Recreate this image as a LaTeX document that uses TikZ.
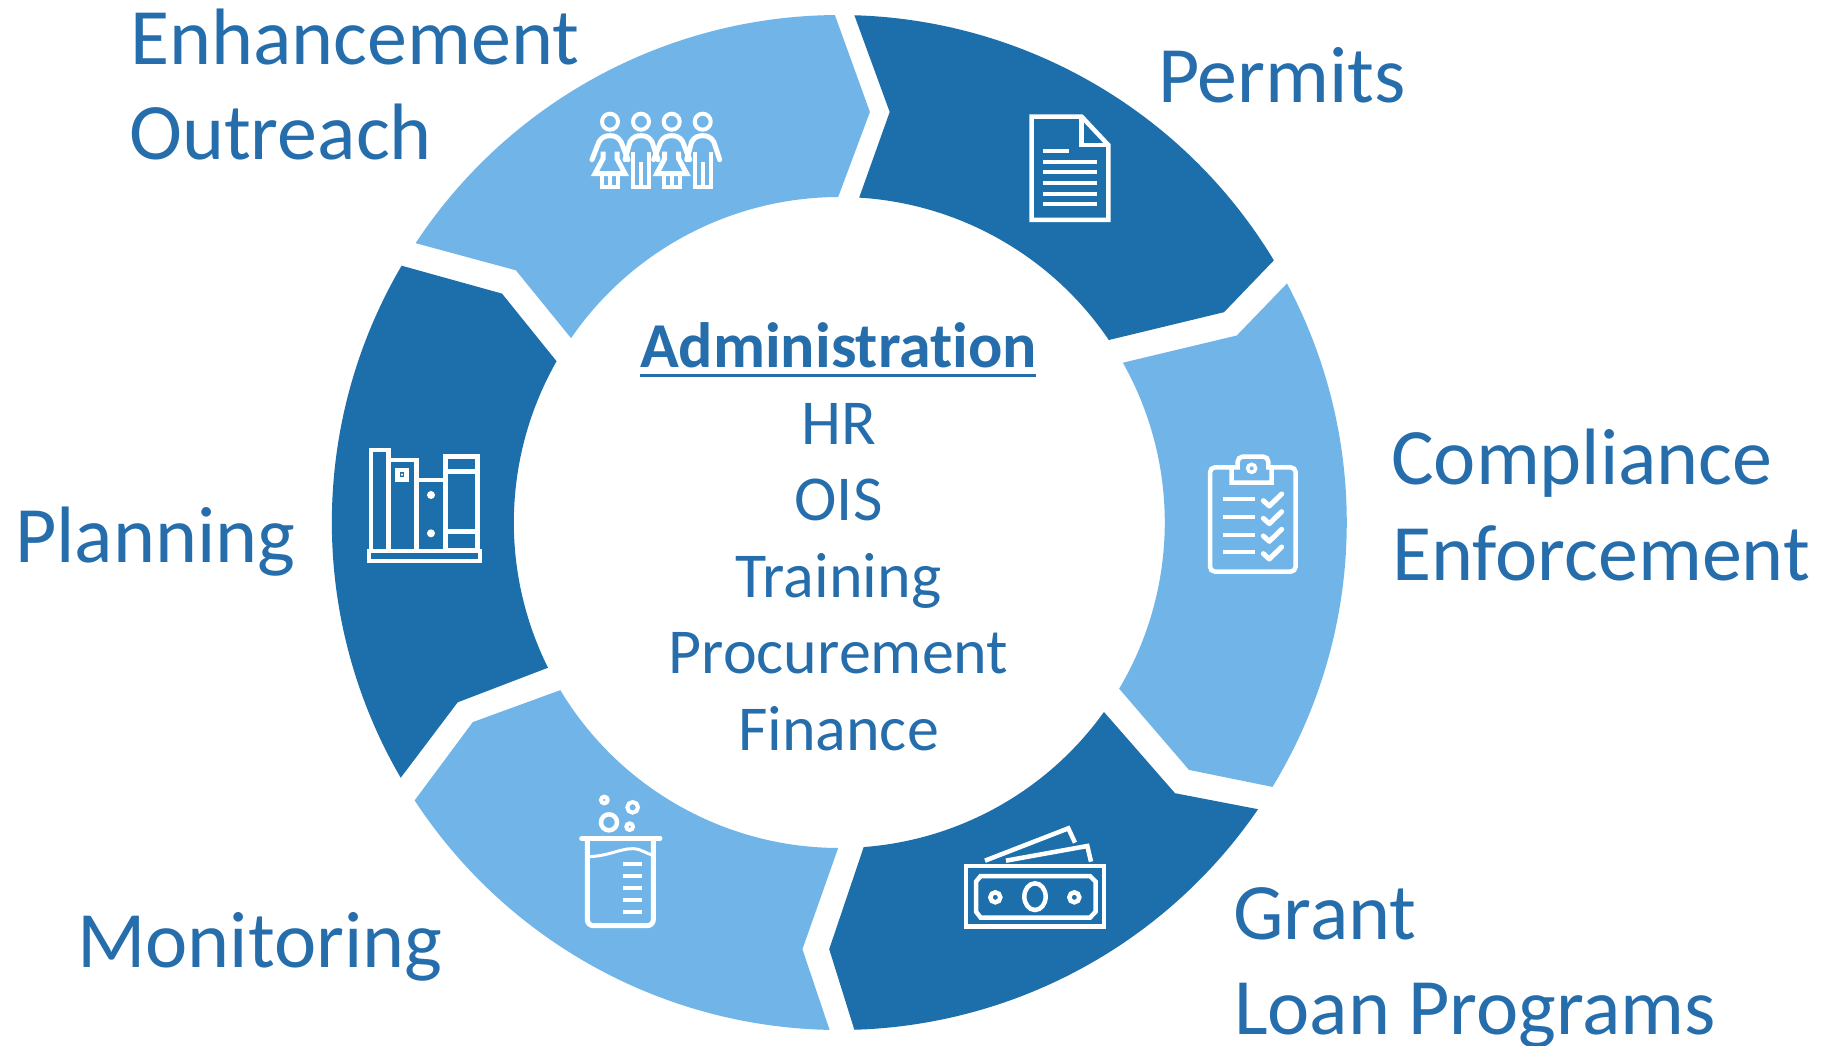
\documentclass[tikz,border=0pt]{standalone}
\usepackage{fontspec}
\setmainfont{Carlito}[Ligatures=NoCommon]
\definecolor{darkblue}{HTML}{1D6FAB}
\definecolor{lightblue}{HTML}{71B5E8}
\definecolor{textblue}{HTML}{266DAC}
\tikzset{
  x=1pt,y=-1pt,
  segdark/.style={fill=darkblue,draw=none},
  seglight/.style={fill=lightblue,draw=none},
  outerlabel/.style={anchor=base west,inner sep=0pt,text=textblue,font=\fontsize{80}{84}\selectfont},
  centerlabel/.style={anchor=base,inner sep=0pt,text=textblue,font=\fontsize{64}{68}\selectfont},
  icon/.style={draw=white,line width=4.5pt,line join=miter,fill=none},
  iconr/.style={draw=white,line width=5pt,line join=round,line cap=round,fill=none},
  iconthin/.style={draw=white,line width=4.2pt,line cap=butt,fill=none},
  pics/woman/.style={code={
    \draw[iconr,line width=4pt] (0,0) circle[radius=8];
    \draw[iconr] (-18,38) -- (-11,20) .. controls (-8,15) and (-4,14) .. (0,14) .. controls (4,14) and (8,15) .. (11,20) -- (18,38);
    \draw[iconr,line join=miter,line cap=butt] (-7,30) -- (-7,37) -- (-15,52) -- (15,52) -- (7,37) -- (7,30);
    \draw[iconthin] (-8,52) -- (-8,65) -- (8,65) -- (8,52) (0,52) -- (0,65);
  }},
  pics/man/.style={code={
    \draw[iconr,line width=4pt] (0,0) circle[radius=8];
    \draw[iconr] (-16,38) -- (-11,20) .. controls (-8,15) and (-4,14) .. (0,14) .. controls (4,14) and (8,15) .. (11,20) -- (17,38);
    \draw[iconthin] (-8,30) -- (-8,65) -- (8,65) -- (8,30) (0,40) -- (0,65);
  }},
}
\begin{document}
\begin{tikzpicture}
\useasboundingbox (0,0) rectangle (1826,1046);
\fill[white] (0,0) rectangle (1826,1046);
\begin{scope}[shift={(839.3,522.5)}]
\fill[segdark] (-88.3:507.5) arc[start angle=-88.3,end angle=-31.1,radius=507.5] -- (384.7,-210.3) -- (-34.1:325.5) arc[start angle=-34.1,end angle=-86.5,radius=325.5] -- (50.4,-410.5) -- cycle;
\fill[seglight] (-28.1:507.5) arc[start angle=-28.1,end angle=31.4,radius=507.5] -- (349.7,247.4) -- (30.7:325.5) arc[start angle=30.7,end angle=-29.4,radius=325.5] -- (397.5,-187) -- cycle;
\fill[segdark] (34.4:507.5) arc[start angle=34.4,end angle=88.3,radius=507.5] -- (-10.1,426.7) -- (85.7:325.5) arc[start angle=85.7,end angle=35.6,radius=325.5] -- (335.7,270.7) -- cycle;
\fill[seglight] (91.1:507.5) arc[start angle=91.1,end angle=146.8,radius=507.5] -- (-366.5,199.6) -- (149:325.5) arc[start angle=149,end angle=90.2,radius=325.5] -- (-36.9,426.7) -- cycle;
\fill[segdark] (149.8:507.5) arc[start angle=149.8,end angle=210.4,radius=507.5] -- (-337.3,-228.9) -- (209.7:325.5) arc[start angle=209.7,end angle=153.5,radius=325.5] -- (-381.6,179.8) -- cycle;
\fill[seglight] (213.4:507.5) arc[start angle=213.4,end angle=269.5,radius=507.5] -- (30.6,-410.5) -- (269.8:325.5) arc[start angle=269.8,end angle=214.5,radius=325.5] -- (-323.4,-252.2) -- cycle;
\end{scope}
% outer labels
\node[outerlabel] (enh) at (130,65) {Enhancement};
\node[outerlabel] (out) at (129,160) {Outreach};
\node[outerlabel] (per) at (1158,102.5) {Permits};
\node[outerlabel] (com) at (1391,484) {Compliance};
\node[outerlabel] (enf) at (1392,580.5) {Enforcement};
\node[outerlabel] (gra) at (1233,939) {Grant};
\node[outerlabel] (loa) at (1234,1034) {Loan Programs};
\node[outerlabel] (mon) at (77,967) {Monitoring};
\node[outerlabel] (pla) at (15,562) {Planning};
% centre
\node[centerlabel,font=\fontsize{64}{68}\selectfont\bfseries] (adm) at (838.5,367) {Administration};
\draw[textblue,line width=3.5pt] (640,375.5) -- (1036,375.5);
\node[centerlabel] (hr) at (838.5,444) {HR};
\node[centerlabel] (ois) at (838.5,520) {OIS};
\node[centerlabel] (tra) at (838.5,597) {Training};
\node[centerlabel] (pro) at (838.5,673.5) {Procurement};
\node[centerlabel] (fin) at (838.5,750.5) {Finance};
% people
\pic at (610,121.7) {woman};
\pic at (641,121.7) {man};
\pic at (671.7,121.7) {woman};
\pic at (702.7,121.7) {man};
% document
\begin{scope}[shift={(1010,100)},x=.3333pt,y=-.3333pt]
\draw[icon] (65,50) -- (215,50) -- (295,135) -- (295,360) -- (65,360) -- cycle;
\draw[icon] (215,50) -- (215,135) -- (295,135);
\draw[iconthin] (100,153) -- (178,153) (100,185) -- (262,185) (100,217) -- (262,217) (100,249) -- (262,249) (100,281) -- (262,281) (100,312) -- (262,312);
\end{scope}
% clipboard
\begin{scope}[shift={(1190,440)},x=.3333pt,y=-.3333pt]
\draw[icon,rounded corners=5pt] (60,82) rectangle (317,395);
\draw[icon,fill=lightblue] (125,128) -- (125,82) -- (143,82) [rounded corners=5pt] -- (143,50) -- (235,50) [sharp corners] -- (235,82) -- (245,82) -- (245,128) -- cycle;
\draw[draw=white,line width=3.5pt] (185,85) circle[radius=12];
\draw[iconthin] (100,178) -- (195,178) (100,231) -- (195,231) (100,284) -- (195,284) (100,337) -- (195,337);
\foreach \d in {0,53,106,159} \draw[iconr] (220,182+\d) -- (238,198+\d) -- (275,162+\d);
\end{scope}
% money
\begin{scope}[shift={(950,810)},x=.3333pt,y=-.3333pt]
\draw[icon] (48,168) rectangle (462,350);
\draw[icon] (92,198) -- (420,198) -- (437,215) -- (437,305) -- (420,323) -- (92,323) -- (78,305) -- (78,215) -- cycle;
\draw[icon] (255,260) ellipse[x radius=32,y radius=40];
\draw[icon] (136,262) circle[radius=15];
\draw[icon] (373,262) circle[radius=15];
\draw[icon] (105,152) -- (355,55) -- (375,98);
\draw[icon] (168,152) -- (412,108) -- (423,155);
\end{scope}
% beaker
\begin{scope}[shift={(570,780)},x=.3333pt,y=-.3333pt]
\draw[draw=white,line width=4pt] (103,60) circle[radius=10];
\draw[draw=white,line width=4pt] (188,82) circle[radius=16];
\draw[draw=white,line width=4.5pt] (117,127) circle[radius=24];
\draw[draw=white,line width=4pt] (179,140) circle[radius=10];
\draw[iconr] (35,175) -- (270,175);
\draw[iconr,rounded corners=6pt] (52,180) -- (52,437) -- (250,437) -- (250,180);
\draw[draw=white,line width=3pt] (55,230) .. controls (120,228) and (150,205) .. (190,206) .. controls (215,207) and (230,222) .. (248,225);
\draw[iconthin] (160,252) -- (217,252) (160,288) -- (217,288) (160,324) -- (217,324) (160,360) -- (217,360) (160,396) -- (217,396);
\end{scope}
% books
\begin{scope}[shift={(355,435)},x=.3333pt,y=-.3333pt]
\draw[icon] (48,345) -- (48,45) -- (100,45) -- (100,345);
\draw[icon] (100,75) -- (185,75) -- (185,345);
\draw[icon] (185,135) -- (270,135) -- (270,345);
\draw[icon] (272,65) rectangle (368,345);
\draw[icon] (272,110) -- (368,110) (272,290) -- (368,290);
\draw[icon] (127,105) rectangle (155,133);
\fill[white] (141,119) circle[radius=4];
\fill[white] (228,180) circle[radius=12];
\fill[white] (228,295) circle[radius=12];
\draw[icon] (42,348) rectangle (375,378);
\end{scope}
\end{tikzpicture}
\end{document}
